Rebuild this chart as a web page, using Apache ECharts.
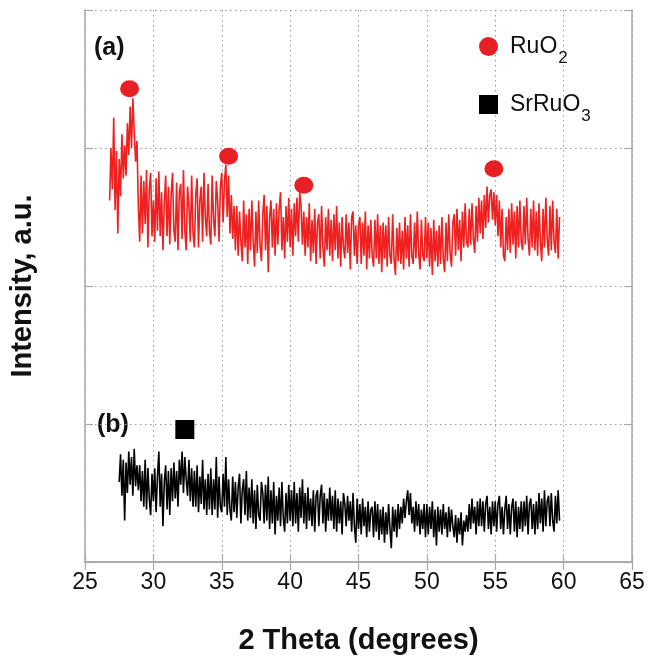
<!DOCTYPE html>
<html>
<head>
<meta charset="utf-8">
<script src="https://cdn.jsdelivr.net/npm/echarts@6/dist/echarts.min.js"></script>
<style>
html,body{margin:0;padding:0;background:#fff;}
#chart{width:657px;height:656px;}
</style>
</head>
<body>
<div id="chart"></div>
<script>
// X ticks
const xTicks = [25, 30, 35, 40, 45, 50, 55, 60, 65];
// Pattern (a): start angle, step, intensities (a.u.)
const redStart = 26.8;
const redStep = 0.1;
const redValues = [
  262, 300, 270, 322, 255, 298, 238, 292, 265, 310, 278, 302,
  280, 318, 295, 330, 300, 336, 312, 290, 305, 258,
  232, 280, 238, 276, 245, 284, 228, 270, 282, 236,
  262, 232, 278, 240, 283, 236, 268, 226, 260, 280,
  236, 272, 230, 266, 282, 240, 232, 275, 226, 268,
  274, 234, 284, 240, 226, 272, 258, 232, 280, 238,
  228, 266, 278, 228, 262, 272, 232, 282, 250, 236,
  274, 240, 230, 280, 248, 236, 276, 262, 232, 272,
  282, 246, 276, 288, 250, 280, 238, 266, 234, 258,
  226, 258, 222, 254, 232, 218, 262, 228, 252, 216,
  256, 226, 262, 232, 214, 254, 224, 262, 230, 218,
  252, 266, 226, 258, 210, 250, 262, 228, 256, 222,
  260, 230, 256, 268, 226, 250, 220, 258, 232, 264,
  228, 256, 222, 260, 236, 264, 232, 268, 258, 230,
  254, 222, 250, 228, 260, 218, 248, 224, 256, 216,
  246, 252, 220, 258, 228, 214, 250, 226, 256, 222,
  248, 218, 252, 226, 258, 220, 246, 214, 250, 228,
  220, 252, 224, 246, 212, 250, 254, 222, 244, 216,
  244, 250, 216, 246, 222, 254, 212, 244, 220, 248,
  222, 214, 248, 220, 252, 216, 244, 210, 246, 220,
  244, 214, 250, 222, 216, 252, 220, 208, 242, 218,
  246, 216, 240, 212, 250, 220, 244, 214, 252, 222,
  216, 246, 220, 254, 224, 212, 248, 222, 218, 250,
  220, 246, 214, 242, 208, 248, 218, 240, 214, 244,
  216, 250, 220, 210, 246, 218, 252, 224, 214, 246,
  252, 222, 256, 226, 248, 218, 254, 228, 260, 232,
  228, 256, 230, 260, 234, 224, 258, 232, 264, 238,
  262, 234, 266, 242, 272, 246, 266, 270, 248, 268,
  244, 266, 236, 262, 228, 256, 222, 218, 250, 226,
  256, 224, 260, 230, 254, 220, 258, 228, 262, 232,
  226, 258, 230, 264, 234, 222, 256, 228, 262, 226,
  254, 222, 260, 232, 218, 256, 228, 264, 234, 222,
  258, 226, 262, 232, 224, 256, 220, 250
];
// Pattern (b)
const blackStart = 27.5;
const blackStep = 0.1;
const blackValues = [
  58, 78, 48, 74, 30,
  72, 50, 80, 56, 76, 48, 82, 55, 70, 52,
  70, 44, 66, 40, 74, 38, 68, 46, 34, 64,
  44, 68, 36, 62, 80, 40, 64, 26, 58, 70,
  38, 66, 34, 68, 44, 72, 46, 66, 40, 74,
  56, 80, 50, 76, 60, 48, 74, 44, 68, 40,
  66, 40, 70, 36, 62, 42, 74, 38, 60, 34,
  64, 38, 68, 34, 60, 38, 76, 32, 62, 40,
  36, 64, 40, 76, 34, 60, 38, 30, 62, 36,
  58, 32, 54, 64, 28, 52, 60, 34, 66, 30,
  54, 32, 60, 28, 52, 24, 56, 34, 30, 58,
  50, 28, 56, 30, 62, 24, 52, 28, 58, 20,
  48, 30, 54, 26, 58, 32, 22, 50, 28, 56,
  30, 52, 26, 58, 28, 50, 22, 54, 32, 60,
  28, 50, 24, 54, 30, 46, 26, 52, 22, 48,
  52, 26, 48, 56, 28, 50, 22, 46, 30, 54,
  30, 48, 24, 52, 22, 46, 28, 44, 20, 50,
  42, 26, 48, 30, 44, 22, 50, 26, 14, 46,
  24, 42, 20, 46, 26, 40, 18, 44, 22, 38,
  40, 18, 44, 22, 42, 16, 38, 20, 40, 14,
  36, 20, 42, 24, 10, 40, 22, 38, 18, 42,
  24, 40, 28, 46, 32, 44, 52, 34, 50, 28,
  40, 22, 44, 26, 42, 20, 38, 24, 42, 18,
  42, 20, 40, 24, 44, 18, 38, 12, 40, 22,
  38, 20, 42, 24, 36, 18, 40, 22, 38, 26,
  18, 34, 14, 32, 20, 36, 12, 30, 22, 34,
  22, 42, 24, 46, 28, 40, 20, 44, 26, 46,
  26, 44, 22, 42, 48, 24, 40, 20, 44, 26,
  44, 22, 42, 48, 24, 40, 20, 38, 48, 24,
  42, 20, 40, 46, 22, 44, 18, 40, 24, 44,
  22, 44, 26, 48, 20, 42, 46, 24, 42, 20,
  44, 24, 50, 28, 46, 22, 52, 26, 44, 48,
  26, 50, 30, 22, 48, 28, 52, 30
];
// Phase markers
const ruo2Peaks = [[28.26, 343], [35.5, 294], [41.0, 273], [54.9, 285]];
const srruo3Peaks = [[32.3, 96]];
const panelLabels = ['(a)', '(b)'];

function toPairs(start, step, vals) {
  return vals.map((v, i) => [Math.round((start + i * step) * 100) / 100, v]);
}

const chart = echarts.init(document.getElementById('chart'), null, {renderer: 'canvas'});
const gridCol = '#a8a8a8';
const FONT = '"Liberation Sans", Arial, sans-serif';
const option = {
  animation: false,
  backgroundColor: '#fff',
  grid: {left: 85, right: 25, top: 10, bottom: 94, containLabel: false, outerBoundsMode: 'none'},
  legend: {
    data: ['RuO2', 'SrRuO3'],
    orient: 'vertical',
    left: 474, top: 30,
    itemWidth: 19, itemHeight: 19,
    itemGap: 26,
    formatter: function (name) {
      return name === 'RuO2' ? '{n|RuO}{s|2}' : '{n|SrRuO}{s|3}';
    },
    textStyle: {
      rich: {
        n: {fontSize: 23, fontFamily: FONT, color: '#111', padding: [0, 0, 0, 7]},
        s: {fontSize: 17, fontFamily: FONT, color: '#111', padding: [24, 0, 0, 1]}
      }
    }
  },
  xAxis: [{
    type: 'value', min: 25, max: 65, interval: 5,
    name: '2 Theta (degrees)', nameLocation: 'middle', nameGap: 64,
    nameTextStyle: {fontSize: 29, fontWeight: 'bold', fontFamily: FONT, color: '#111'},
    axisLine: {show: true, lineStyle: {color: gridCol, width: 1.5}},
    axisTick: {show: true, inside: true, length: 8, lineStyle: {color: gridCol, width: 1.2}},
    axisLabel: {fontSize: 23, fontFamily: FONT, color: '#111', margin: 9,
      formatter: v => xTicks.indexOf(v) >= 0 ? String(v) : ''},
    splitLine: {show: true, lineStyle: {color: '#999', type: [1.5, 3.5], width: 1}}
  }, {
    type: 'value', min: 25, max: 65, interval: 5, position: 'top',
    axisLine: {show: true, lineStyle: {color: gridCol, width: 1.5}},
    axisTick: {show: true, inside: true, length: 8, lineStyle: {color: gridCol, width: 1.2}},
    axisLabel: {show: false}, splitLine: {show: false}
  }],
  yAxis: [{
    type: 'value', min: 0, max: 400, interval: 100,
    name: 'Intensity, a.u.', nameLocation: 'middle', nameGap: 48,
    nameTextStyle: {fontSize: 29, fontWeight: 'bold', fontFamily: FONT, color: '#111'},
    axisLine: {show: true, lineStyle: {color: gridCol, width: 1.5}},
    axisTick: {show: true, inside: true, length: 8, lineStyle: {color: gridCol, width: 1.2}},
    axisLabel: {show: false},
    splitLine: {show: true, lineStyle: {color: '#999', type: [1.5, 3.5], width: 1}}
  }, {
    type: 'value', min: 0, max: 400, interval: 100, position: 'right',
    axisLine: {show: true, lineStyle: {color: gridCol, width: 1.5}},
    axisTick: {show: true, inside: true, length: 8, lineStyle: {color: gridCol, width: 1.2}},
    axisLabel: {show: false}, splitLine: {show: false}
  }],
  series: [{
    name: 'pattern a', type: 'line', showSymbol: false, symbol: 'none',
    data: toPairs(redStart, redStep, redValues),
    lineStyle: {color: '#ee2020', width: 1.6}, z: 3
  }, {
    name: 'pattern b', type: 'line', showSymbol: false, symbol: 'none',
    data: toPairs(blackStart, blackStep, blackValues),
    lineStyle: {color: '#000', width: 1.6}, z: 3
  }, {
    name: 'RuO2', type: 'scatter', symbol: 'circle', symbolSize: [19, 17],
    data: ruo2Peaks, itemStyle: {color: '#e82025', opacity: 1}, z: 5
  }, {
    name: 'SrRuO3', type: 'scatter', symbol: 'rect', symbolSize: 19,
    data: srruo3Peaks, itemStyle: {color: '#000', opacity: 1}, z: 5
  }],
  graphic: [{
    type: 'text', left: 94, top: 36,
    style: {text: panelLabels[0], font: 'bold 25px "Liberation Sans", Arial', fill: '#111'}
  }, {
    type: 'text', left: 97, top: 413,
    style: {text: panelLabels[1], font: 'bold 25px "Liberation Sans", Arial', fill: '#111'}
  }]
};
chart.setOption(option);
</script>
</body>
</html>
